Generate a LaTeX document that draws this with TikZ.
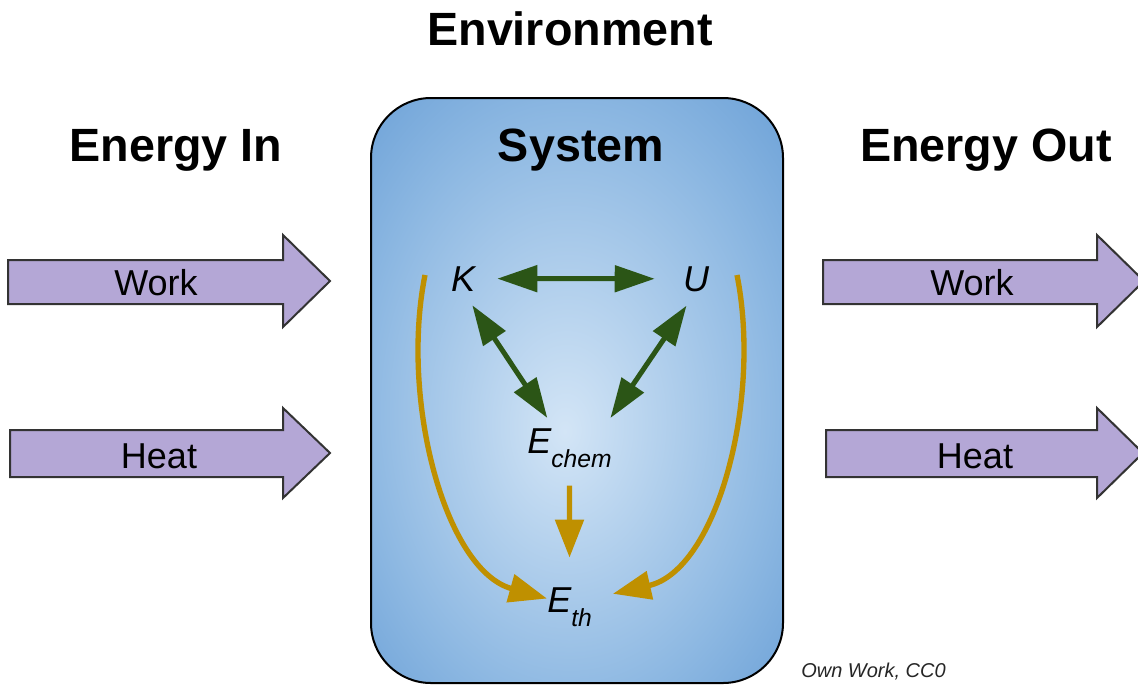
\documentclass[tikz,border=0pt]{standalone}
\usepackage{fontspec}
\setmainfont{Liberation Sans}
\usetikzlibrary{arrows.meta}
\usetikzlibrary{positioning}
\definecolor{flowfill}{HTML}{B4A7D6}
\definecolor{flowline}{HTML}{333333}
\definecolor{kgreen}{HTML}{2B5516}
\definecolor{thgold}{HTML}{BF9000}
\definecolor{glowin}{HTML}{D3E5F6}
\definecolor{glowmid}{HTML}{8DB8E2}
\definecolor{glowout}{HTML}{6FA3D8}
\pgfdeclareradialshading{sysglow}{\pgfpoint{-1.5bp}{-3.5bp}}{color(0bp)=(glowin); color(25bp)=(glowmid); color(36bp)=(glowout); color(50bp)=(glowout)}
\newcommand\lowsub[1]{\raisebox{-10.5pt}{\fontsize{18.5}{20}\selectfont #1}}
\tikzset{
sysbox/.style={
  draw=black,line width=1.5pt,rounded corners=45pt,shade,shading=sysglow,
  minimum width=309pt,minimum height=438.75pt,inner sep=0pt},
flowarr/.style={draw=flowline,fill=flowfill,line width=1.5pt,line join=miter},
heading/.style={font=\fontsize{35}{40}\selectfont\bfseries,anchor=base,inner sep=0pt},
flowtext/.style={font=\fontsize{27}{30}\selectfont,anchor=base,inner sep=0pt},
quantity/.style={font=\fontsize{27}{30}\selectfont\itshape,inner sep=0pt},
greenarr/.style={
  draw=kgreen,line width=3.75pt,
  {Triangle[length=30pt,width=19.5pt]}-{Triangle[length=30pt,width=19.5pt]}},
goldarr/.style={draw=thgold,line width=4pt,-{Triangle[length=28.5pt,width=21pt]}}
}
\begin{document}
\begin{tikzpicture}[x=0.75pt,y=-0.75pt]
\useasboundingbox (0,0) rectangle (1138,686);

\node[sysbox] (sysnode) at (577,390.5) {};

\node[heading] (envtitle) at (570,45) {Environment};
\node[heading] (intitle) at (176,161) {Energy In};
\node[heading] (systitle) at (581,161) {System};
\node[heading] (outtitle) at (986,161) {Energy Out};

% energy in
\draw[flowarr] (8,260) -- (283,260) -- (283,235) -- (330,281) -- (283,327) -- (283,304) -- (8,304) -- cycle;
\node[flowtext] (workin) at (156,295) {Work};
\draw[flowarr] (10,430) -- (283,430) -- (283,408) -- (330,453) -- (283,498) -- (283,477) -- (10,477) -- cycle;
\node[flowtext] (heatin) at (159,468) {Heat};

% energy out
\draw[flowarr] (823,260) -- (1097,260) -- (1097,235) -- (1144,281) -- (1097,327) -- (1097,304) -- (823,304) -- cycle;
\node[flowtext] (workout) at (972,295) {Work};
\draw[flowarr] (826,430) -- (1097,430) -- (1097,408) -- (1143,453) -- (1097,498) -- (1097,477) -- (826,477) -- cycle;
\node[flowtext] (heatout) at (975,468) {Heat};

\node[quantity,anchor=base] (Knode) at (463,291) {K};
\node[quantity,anchor=base] (Unode) at (696,291) {U};
\node[quantity,anchor=base west] (Echem) at (527,453) {E\lowsub{chem}};
\node[quantity,anchor=base west] (Eth) at (547,612) {E\lowsub{th}};

\draw[greenarr,shorten <=16.5pt,shorten >=21pt] (Knode.east) -- (Unode.west);
\draw[greenarr,shorten <=12.6pt,shorten >=9pt] (Knode.south) -- (Echem.128);
\draw[greenarr,shorten <=12.7pt,shorten >=9pt] (Unode.south) -- (Echem.30);

\coordinate (lfoot) at (425,275);
\coordinate (rfoot) at (737,275);
\draw[goldarr,shorten <=13.5pt,shorten >=22pt] (Echem) -- (Eth);
\draw[goldarr] (lfoot) .. controls (400,400) and (445,570) .. (Eth.160);
\draw[goldarr,shorten >=16pt] (rfoot) .. controls (762,400) and (717,570) .. (Eth.20);

\node[font=\fontsize{15}{18}\selectfont\itshape,anchor=base west,inner sep=0pt,text=black!85] (credit) at (801,677) {Own Work, CC0};

\end{tikzpicture}
\end{document}
